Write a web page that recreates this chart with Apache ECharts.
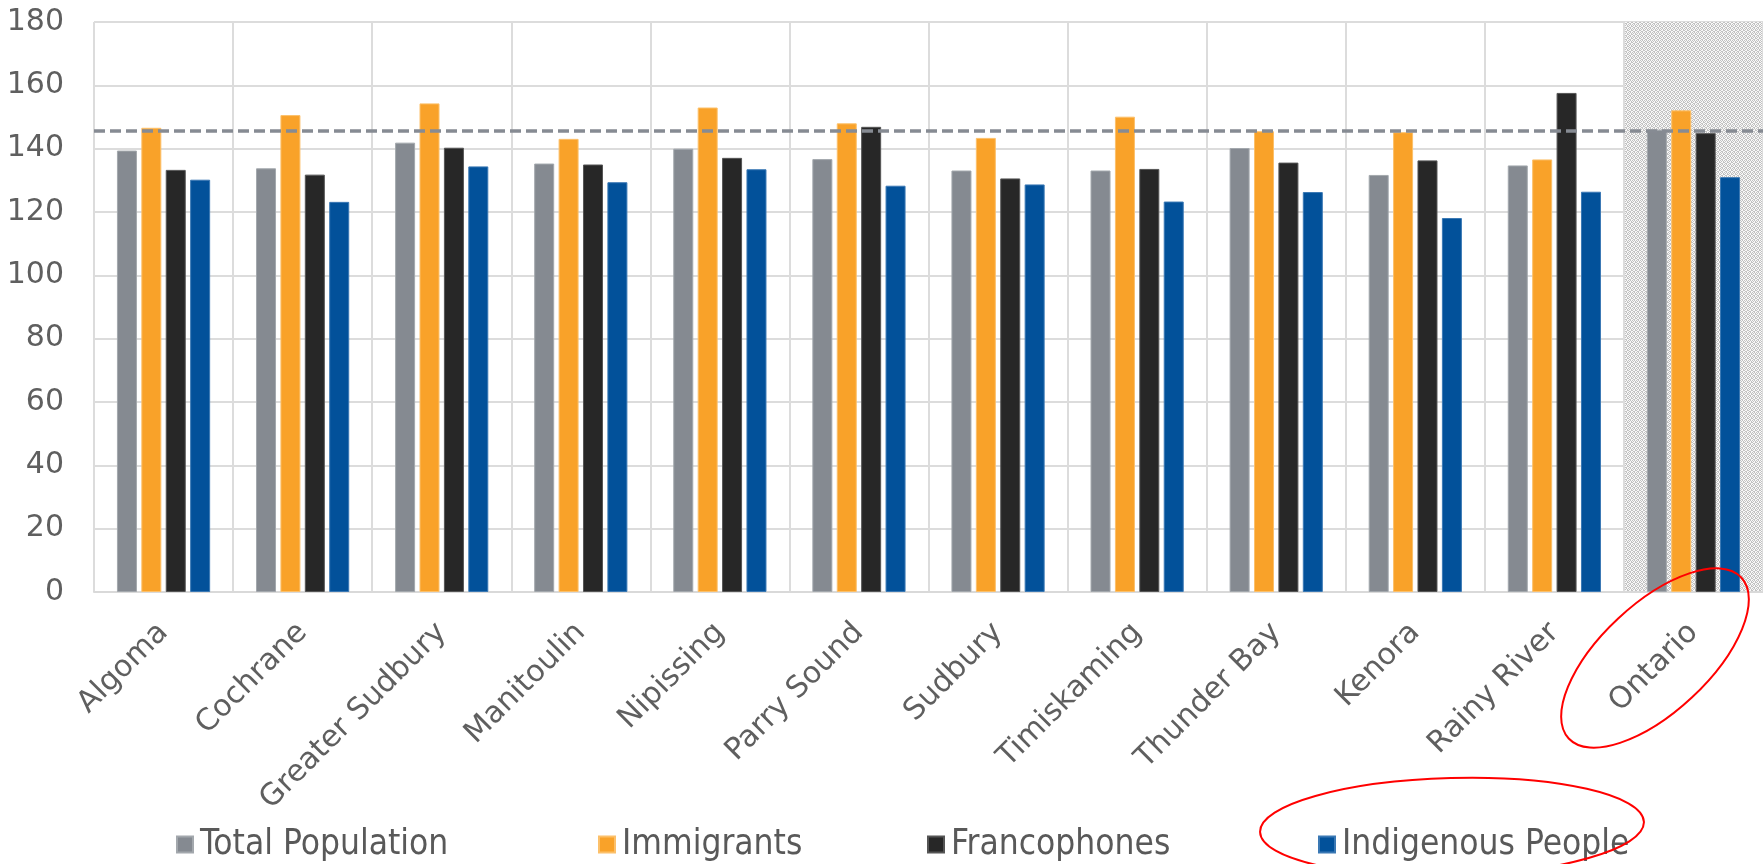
<!DOCTYPE html>
<html>
<head>
<meta charset="utf-8">
<script src="https://cdn.jsdelivr.net/npm/echarts@6/dist/echarts.min.js"></script>
<style>
html,body{margin:0;padding:0;background:#fff;}
#chart{width:1763px;height:864px;}
</style>
</head>
<body>
<div id="chart"></div>
<script>
const categories = ['Algoma','Cochrane','Greater Sudbury','Manitoulin','Nipissing','Parry Sound','Sudbury','Timiskaming','Thunder Bay','Kenora','Rainy River','Ontario'];
const totalPopulation = [139.4, 133.8, 141.9, 135.3, 140.0, 136.7, 133.1, 133.1, 140.2, 131.7, 134.7, 146.0];
const immigrants = [146.6, 150.6, 154.3, 143.1, 153.0, 148.0, 143.4, 150.1, 145.5, 145.2, 136.6, 152.1];
const francophones = [133.3, 131.8, 140.3, 135.0, 137.1, 146.9, 130.6, 133.6, 135.6, 136.3, 157.6, 144.9];
const indigenousPeople = [130.2, 123.2, 134.4, 129.4, 133.5, 128.3, 128.7, 123.3, 126.3, 118.1, 126.4, 131.0];
const ontarioReference = 145.6;
const seriesNames = ['Total Population','Immigrants','Francophones','Indigenous People'];
const yTicks = [0, 20, 40, 60, 80, 100, 120, 140, 160, 180];

// stipple pattern for highlighted Ontario column
const pc = document.createElement('canvas');
pc.width = 4; pc.height = 4;
const pctx = pc.getContext('2d');
pctx.fillStyle = '#f8f8f8'; pctx.fillRect(0,0,4,4);
pctx.fillStyle = '#c2c2c2';
[[0,0],[2,0],[1,1],[3,2],[0,2],[2,3],[1,3],[3,1]].forEach(p=>pctx.fillRect(p[0],p[1],1,1));
const pattern = {image: pc, repeat: 'repeat'};
const areaColors = categories.map((c,i)=> i === categories.length-1 ? pattern : 'rgba(0,0,0,0)');

const colors = ['#858a91', '#f9a229', '#272727', '#02519a'];
const borders = ['#a3a8ad', '#fcc06a', '#555555', '#3a78b4'];
const dataSets = [totalPopulation, immigrants, francophones, indigenousPeople];

const labelFont = "'DejaVu Sans', sans-serif";
const legendFont = "'DejaVu Sans Condensed', 'Liberation Sans Narrow', sans-serif";

const chart = echarts.init(document.getElementById('chart'), null, {renderer:'canvas'});

const series = seriesNames.map((name, i) => {
  const s = {
    name: name,
    type: 'bar',
    data: dataSets[i],
    barWidth: 20,
    barGap: '22%',
    itemStyle: {color: colors[i], borderColor: borders[i], borderWidth: 1},
    emphasis: {disabled: true},
    z: 3
  };
  if (i === 0) {
    s.markLine = {
      silent: true,
      symbol: 'none',
      label: {show: false},
      lineStyle: {color: '#868b93', width: 3.5, type: [11, 5]},
      data: [{yAxis: ontarioReference}],
      z: 5
    };
  }
  return s;
});

const legendLefts = [171, 593, 922, 1313];
const legends = seriesNames.map((name, i) => ({
  data: [name],
  left: legendLefts[i],
  top: 822,
  icon: 'rect',
  itemWidth: 16,
  itemHeight: 16,
  itemGap: 0,
  selectedMode: false,
  textStyle: {color: '#595959', fontSize: 35, fontFamily: legendFont, padding: [0,0,0,2]}
}));

chart.setOption({
  animation: false,
  backgroundColor: '#ffffff',
  grid: {left: 94, right: 0, top: 22, bottom: 272, containLabel: false},
  legend: legends,
  xAxis: {
    type: 'category',
    data: categories,
    axisLine: {show: true, lineStyle: {color: '#d9d9d9', width: 2}},
    axisTick: {show: false},
    axisLabel: {
      interval: 0,
      rotate: 45,
      margin: 36,
      color: '#5f5f5f',
      fontSize: 30,
      fontFamily: labelFont
    },
    splitLine: {show: true, lineStyle: {color: '#dcdcdc', width: 2}},
    splitArea: {show: true, areaStyle: {color: areaColors}}
  },
  yAxis: {
    type: 'value',
    min: yTicks[0],
    max: yTicks[yTicks.length-1],
    interval: 20,
    axisLine: {show: false},
    axisTick: {show: false},
    axisLabel: {color: '#5f5f5f', fontSize: 30, fontFamily: labelFont, margin: 30},
    splitLine: {show: true, lineStyle: {color: '#dcdcdc', width: 2}}
  },
  series: series,
  graphic: [
    {
      type: 'ellipse',
      x: 1655, y: 658,
      rotation: Math.PI * 43 / 180,
      shape: {cx: 0, cy: 0, rx: 118, ry: 54},
      style: {fill: 'none', stroke: '#ff0000', lineWidth: 2},
      z: 100
    },
    {
      type: 'ellipse',
      x: 1452, y: 827,
      rotation: Math.PI * 1.5 / 180,
      shape: {cx: 0, cy: 0, rx: 192, ry: 49},
      style: {fill: 'none', stroke: '#ff0000', lineWidth: 2},
      z: 100
    }
  ]
});
</script>
</body>
</html>
